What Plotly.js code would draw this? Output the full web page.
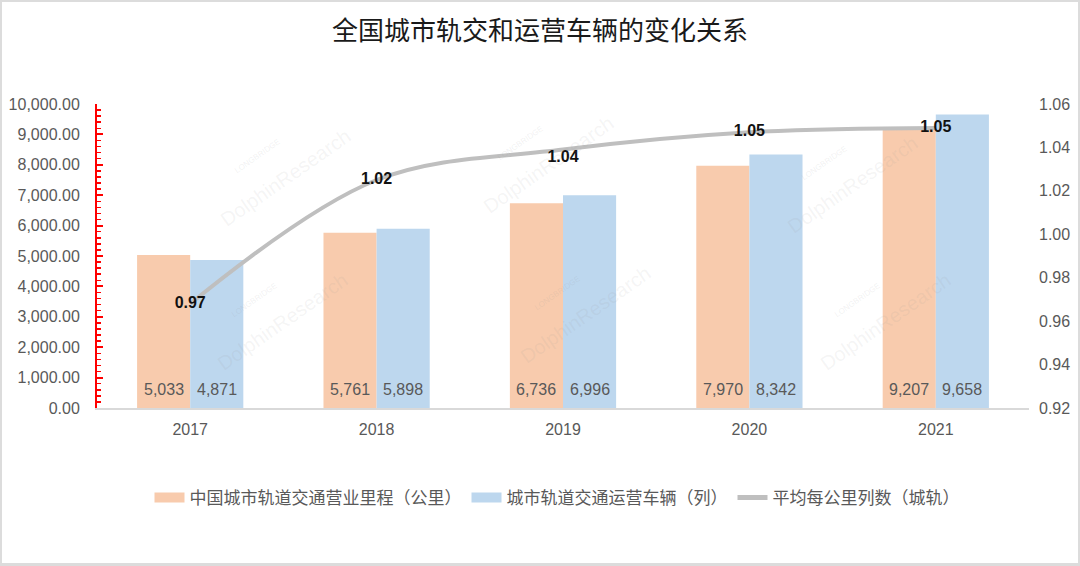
<!DOCTYPE html>
<html>
<head>
<meta charset="utf-8">
<script src="https://cdn.plot.ly/plotly-3.0.1.min.js"></script>
<style>
  html, body { margin: 0; padding: 0; background: #fff; }
  #wrap { position: relative; width: 1080px; height: 566px; }
  #chart { width: 1080px; height: 566px; }
  #frame { position: absolute; left: 0; top: 0; width: 1080px; height: 566px; box-sizing: border-box;
           border: 2px solid #dcdcdc; border-bottom-width: 3px; pointer-events: none; }
</style>
</head>
<body>
<div id="wrap"><div id="chart"></div><div id="frame"></div></div>
<script>
const years = ['2017', '2018', '2019', '2020', '2021'];
const mileage = [5033, 5761, 6736, 7970, 9207];
const vehicles = [4871, 5898, 6996, 8342, 9658];
const ratio = [0.968, 1.025, 1.039, 1.047, 1.049];

const seriesNames = ['中国城市轨道交通营业里程（公里）', '城市轨道交通运营车辆（列）', '平均每公里列数（城轨）'];
const titleText = '全国城市轨交和运营车辆的变化关系';

const FONT = '"Liberation Sans", Arial, "Noto Sans CJK SC", sans-serif';
const GRAY = '#595959';
const ORANGE = '#F8CBAD', BLUE = '#BDD7EE', LINE = '#BFBFBF';

const fmt = v => v.toLocaleString('en-US');

const traces = [
  { type: 'bar', name: seriesNames[0], x: years, y: mileage, marker: { color: ORANGE },
    showlegend: false, hoverinfo: 'skip' },
  { type: 'bar', name: seriesNames[1], x: years, y: vehicles, marker: { color: BLUE },
    showlegend: false, hoverinfo: 'skip' },
  {
    type: 'scatter', name: seriesNames[2], x: years, y: ratio, yaxis: 'y2',
    mode: 'lines+text', showlegend: false,
    line: { color: LINE, width: 4, shape: 'spline', smoothing: 1 },
    text: ratio.map(v => '<b>' + v.toFixed(2) + '</b>'),
    textposition: ['middle center', 'middle center', 'bottom center', 'middle center', 'middle center'],
    textfont: { family: FONT, size: 16, color: '#111' },
    cliponaxis: false, hoverinfo: 'skip'
  },
  // legend entries (no drawn data)
  { type: 'scatter', mode: 'lines', name: seriesNames[0], x: years, y: years.map(() => null),
    line: { color: ORANGE, width: 15 }, hoverinfo: 'skip' },
  { type: 'scatter', mode: 'lines', name: seriesNames[1], x: years, y: years.map(() => null),
    line: { color: BLUE, width: 15 }, hoverinfo: 'skip' },
  { type: 'scatter', mode: 'lines', name: seriesNames[2], x: years, y: years.map(() => null), yaxis: 'y2',
    line: { color: LINE, width: 5 }, hoverinfo: 'skip' }
];

const L = 97, R = 1029, T = 104, B = 408;
const annotations = [];

// bar value labels at the bottom of each bar (x = category index)
const shift = 26.6;
years.forEach((yr, i) => {
  annotations.push({ x: i, y: 0, xref: 'x', yref: 'y', text: fmt(mileage[i]), showarrow: false,
    xanchor: 'center', yanchor: 'bottom', xshift: -shift, yshift: 8,
    font: { family: FONT, size: 16, color: GRAY } });
  annotations.push({ x: i, y: 0, xref: 'x', yref: 'y', text: fmt(vehicles[i]), showarrow: false,
    xanchor: 'center', yanchor: 'bottom', xshift: shift, yshift: 8,
    font: { family: FONT, size: 16, color: GRAY } });
});

// faint watermarks
const wm = [[285, 178], [548, 165], [282, 322], [585, 315], [852, 185], [885, 322]];
wm.forEach(([px, py]) => {
  const xp = (px - L) / (R - L), yp = (B - py) / (B - T);
  annotations.push({
    xref: 'paper', yref: 'paper', x: xp, y: yp, xanchor: 'center', yanchor: 'middle',
    text: 'DolphinResearch', showarrow: false,
    textangle: -35, font: { family: FONT, size: 20, color: 'rgba(150,150,150,0.10)' }
  });
  annotations.push({
    xref: 'paper', yref: 'paper', x: xp - 0.03, y: yp + 0.07, xanchor: 'center', yanchor: 'middle',
    text: 'LONGBRIDGE', showarrow: false,
    textangle: -35, font: { family: FONT, size: 8, color: 'rgba(150,150,150,0.14)' }
  });
});

const layout = {
  width: 1080, height: 566,
  margin: { l: 97, r: 51, t: 104, b: 158 },
  paper_bgcolor: '#fff', plot_bgcolor: '#fff',
  font: { family: FONT, color: GRAY, size: 16 },
  title: { text: titleText, x: 0.5, xref: 'container', xanchor: 'center', y: 1 - 31 / 566, yanchor: 'middle',
           font: { family: '"Noto Sans CJK SC", sans-serif', size: 26, color: '#1a1a1a' } },
  barmode: 'group', bargap: 0.43, bargroupgap: 0,
  showlegend: true,
  legend: { orientation: 'h', x: (557 - L) / (R - L), xanchor: 'center', y: (B - 498) / (B - T), yanchor: 'middle',
            font: { family: FONT, size: 17, color: GRAY }, itemwidth: 30, traceorder: 'normal',
            bgcolor: 'rgba(0,0,0,0)' },
  xaxis: {
    type: 'category', range: [-0.5, 4.5], showgrid: false, zeroline: false,
    showline: true, linecolor: '#d9d9d9', linewidth: 1.5, ticks: '',
    tickfont: { family: FONT, size: 16, color: GRAY }, ticklabelstandoff: 6
  },
  yaxis: {
    range: [0, 10000], dtick: 1000, tickformat: ',.2f', showgrid: false, zeroline: false,
    showline: true, linecolor: '#ff0000', linewidth: 2,
    ticks: 'inside', ticklen: 6, tickwidth: 2, tickcolor: '#ff0000',
    minor: { dtick: 200, ticks: 'inside', ticklen: 4, tickwidth: 1.5, tickcolor: '#ff0000', showgrid: false },
    tickfont: { family: FONT, size: 16, color: GRAY }, ticklabelstandoff: 12
  },
  yaxis2: {
    overlaying: 'y', side: 'right', range: [0.92, 1.06], dtick: 0.02, tickformat: '.2f',
    showgrid: false, zeroline: false, showline: false, ticks: '',
    tickfont: { family: FONT, size: 16, color: GRAY }, ticklabelstandoff: 9
  },
  annotations: annotations
};

Plotly.newPlot('chart', traces, layout, { displayModeBar: false, staticPlot: true });
</script>
</body>
</html>
